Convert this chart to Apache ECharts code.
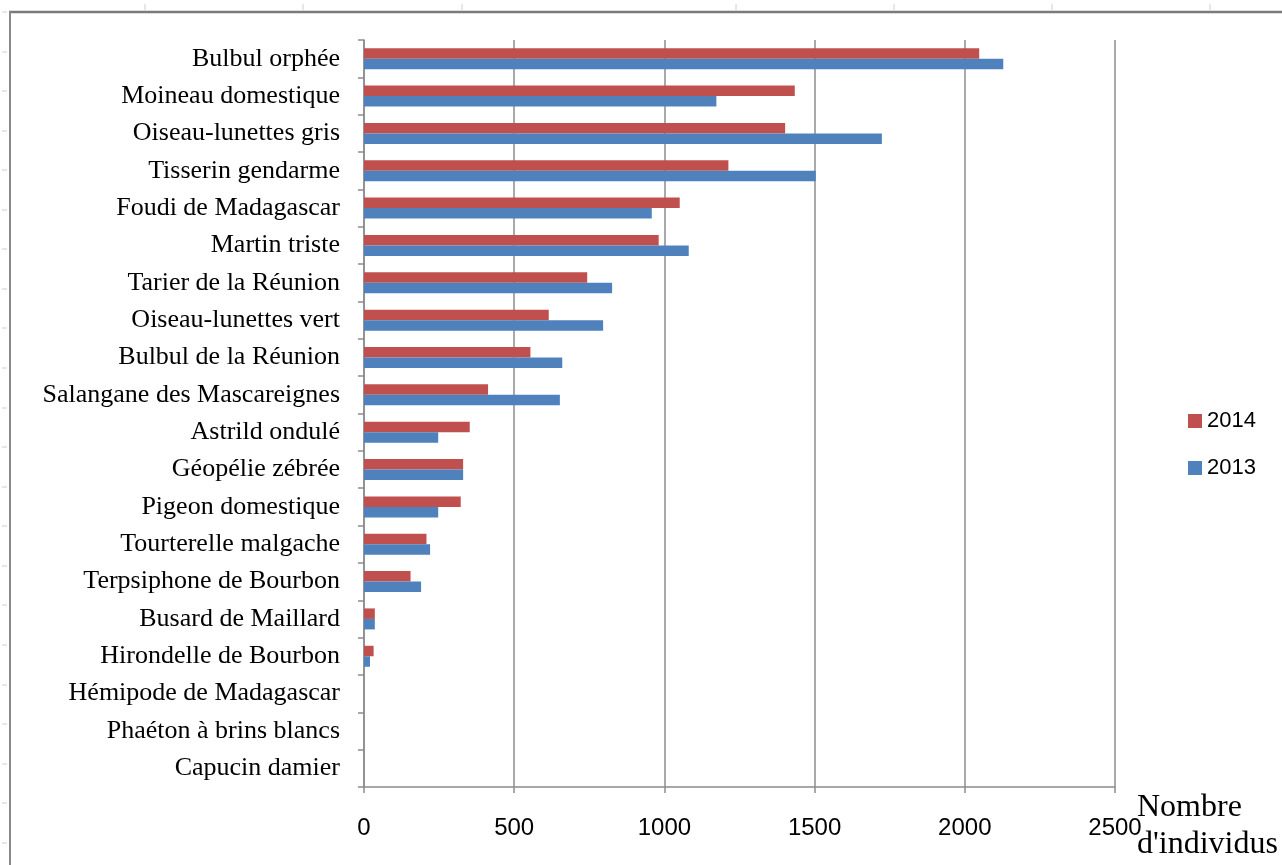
<!DOCTYPE html>
<html><head><meta charset="utf-8">
<script src="https://cdn.jsdelivr.net/npm/echarts@6/dist/echarts.min.js"></script>
<style>html,body{margin:0;padding:0;background:#fff}#c{width:1282px;height:865px}</style>
</head><body><div id="c"></div>
<script>
const categories = [
  "Bulbul orphée","Moineau domestique","Oiseau-lunettes gris","Tisserin gendarme",
  "Foudi de Madagascar","Martin triste","Tarier de la Réunion","Oiseau-lunettes vert",
  "Bulbul de la Réunion","Salangane des Mascareignes","Astrild ondulé","Géopélie zébrée",
  "Pigeon domestique","Tourterelle malgache","Terpsiphone de Bourbon","Busard de Maillard",
  "Hirondelle de Bourbon","Hémipode de Madagascar","Phaéton à brins blancs","Capucin damier"
];
const values2014 = [2048,1434,1402,1213,1051,981,743,615,554,413,352,330,322,208,155,36,32,0,0,0];
const values2013 = [2128,1173,1724,1504,958,1081,826,796,660,652,247,330,247,220,190,36,20,0,0,0];
const seriesNames = ["2014","2013"];
const axisMin = 0, axisMax = 2500, axisStep = 500;
const axisTitle = "Nombre\nd'individus";

const chart = echarts.init(document.getElementById('c'), null, {renderer:'canvas'});
const gridCol = '#8c8c8c';
const graphics = [
  {type:'line', shape:{x1:9,y1:12,x2:1282,y2:12}, style:{stroke:'#7a7a7a',lineWidth:2.5}},
  {type:'line', shape:{x1:10,y1:12,x2:10,y2:865}, style:{stroke:'#8a8a8a',lineWidth:2}},
  {type:'text', left:1137, top:789, style:{text:axisTitle, font:'32px "Liberation Serif"', fill:'#000', lineHeight:37}}
];
// decorative spreadsheet ruler ticks
[145,303,462,736,894,1052,1210].forEach(function(x){
  graphics.push({type:'line', shape:{x1:x,y1:4,x2:x,y2:10}, style:{stroke:'#c8d0dc',lineWidth:1}});
});
for (let k=0;k<22;k++){
  const y = Math.round(12 + k*39.56);
  graphics.push({type:'line', shape:{x1:2,y1:y,x2:7,y2:y}, style:{stroke:'#c8d0dc',lineWidth:1}});
}
chart.setOption({
  animation:false,
  backgroundColor:'#fff',
  grid:{left:364, right:167, top:40, bottom:78, containLabel:false},
  legend:{
    orient:'vertical', left:1183, top:405, itemWidth:14, itemHeight:14, itemGap:25,
    icon:'rect', data:seriesNames,
    textStyle:{fontFamily:'Liberation Sans', fontSize:22, color:'#000', lineHeight:22}
  },
  xAxis:{
    type:'value', min:axisMin, max:axisMax, interval:axisStep,
    axisLine:{show:true, lineStyle:{color:gridCol, width:1.5}},
    axisTick:{show:true, length:6, lineStyle:{color:gridCol, width:1.5}},
    splitLine:{show:true, lineStyle:{color:gridCol, width:1.5}},
    axisLabel:{fontFamily:'Liberation Sans', fontSize:24, color:'#000', margin:29,
      formatter:function(v){return String(v);}}
  },
  yAxis:{
    type:'category', data:categories, inverse:true,
    axisLine:{show:true, lineStyle:{color:gridCol, width:1.5}},
    axisTick:{show:true, length:6, inside:false, lineStyle:{color:gridCol, width:1.5}},
    axisLabel:{fontFamily:'Liberation Serif', fontSize:26, color:'#000', margin:24}
  },
  series:[
    {name:seriesNames[0], type:'bar', data:values2014, barWidth:10.5, barGap:'0%',
     itemStyle:{color:'#C0504D'}},
    {name:seriesNames[1], type:'bar', data:values2013, barWidth:10.5, barGap:'0%',
     itemStyle:{color:'#4F81BD'}}
  ],
  graphic:graphics
});
</script></body></html>
